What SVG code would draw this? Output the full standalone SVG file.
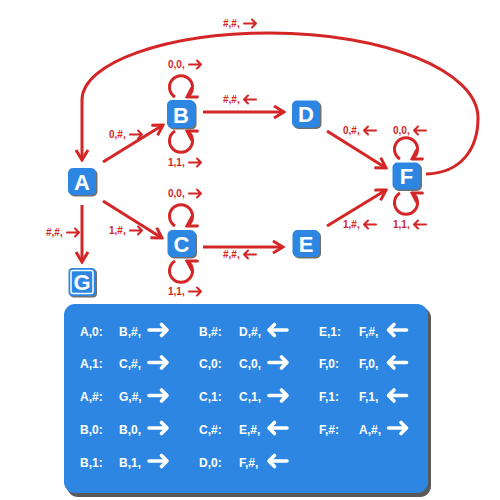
<svg xmlns="http://www.w3.org/2000/svg" width="500" height="500" viewBox="0 0 500 500">
<style>
.edge{fill:none;stroke:#d42626;stroke-width:3}
.nb{fill:#2d87e2}
.ns{fill:#707070}
.nt{fill:#fff;font-family:"Liberation Sans",Arial,sans-serif;font-weight:bold;font-size:22px;text-anchor:middle}
.lbl{fill:#d42626;font-family:"Liberation Sans",Arial,sans-serif;font-weight:bold;font-size:10px}
.tt{fill:#fff;font-family:"Liberation Sans",Arial,sans-serif;font-weight:bold;font-size:12px}
.ra{fill:none;stroke:#d42626;stroke-width:2;stroke-linecap:round;stroke-linejoin:round}
.wa{fill:none;stroke:#fff;stroke-width:3.6;stroke-linecap:round;stroke-linejoin:round}
</style>
<defs>
<marker id="ah" markerUnits="userSpaceOnUse" markerWidth="14" markerHeight="14" viewBox="0 0 14 14" refX="12" refY="7" orient="auto">
<path d="M2,1 L12,7 L2,13" fill="none" stroke="#d42626" stroke-width="3"/>
</marker>
<path id="sr" class="ra" d="M-6,0 H6 M2,-4 L6,0 L2,4"/>
<path id="sl" class="ra" d="M6,0 H-6 M-2,-4 L-6,0 L-2,4"/>
<path id="br" class="wa" d="M-9,0 H9 M3.5,-5.5 L9,0 L3.5,5.5"/>
<path id="bl" class="wa" d="M9,0 H-9 M-3.5,-5.5 L-9,0 L-3.5,5.5"/>
</defs>
<g id="connectors">
<path class="edge" marker-end="url(#ah)" d="M103,162 L163,125"/>
<path class="edge" marker-end="url(#ah)" d="M103,201 L162,238"/>
<path class="edge" marker-end="url(#ah)" d="M82,205 L82,262"/>
<path class="edge" marker-end="url(#ah)" d="M203,112 L284,112"/>
<path class="edge" marker-end="url(#ah)" d="M203,247 L283,247"/>
<path class="edge" marker-end="url(#ah)" d="M327,131 L386,168"/>
<path class="edge" marker-end="url(#ah)" d="M327,226 L386,190"/>
<path class="edge" marker-end="url(#ah)" d="M426,174 C462,173 478,148 478,118 C478,71 385,33 270,33 C166,33 82,63 82,100 L82,160"/>
<path class="edge" marker-end="url(#ah)" d="M175,97 A11.5,11.5 0 1 1 187,97"/>
<path class="edge" marker-end="url(#ah)" d="M175,131 A11.5,11.5 0 1 0 187,131"/>
<path class="edge" marker-end="url(#ah)" d="M175,226 A11.5,11.5 0 1 1 187,226"/>
<path class="edge" marker-end="url(#ah)" d="M175,261 A11.5,11.5 0 1 0 187,261"/>
<path class="edge" marker-end="url(#ah)" d="M400,159 A11.5,11.5 0 1 1 412,159"/>
<path class="edge" marker-end="url(#ah)" d="M400,193 A11.5,11.5 0 1 0 412,193"/>
<text class="lbl" x="223" y="27">#,#,</text><use href="#sr" x="250" y="23.5"/>
<text class="lbl" x="168" y="68">0,0,</text><use href="#sr" x="195" y="64.5"/>
<text class="lbl" x="223" y="103">#,#,</text><use href="#sl" x="250" y="99.5"/>
<text class="lbl" x="109" y="138">0,#,</text><use href="#sr" x="136" y="134.5"/>
<text class="lbl" x="168" y="166">1,1,</text><use href="#sr" x="195" y="162.5"/>
<text class="lbl" x="168" y="197">0,0,</text><use href="#sr" x="195" y="193.5"/>
<text class="lbl" x="46" y="236">#,#,</text><use href="#sr" x="73" y="232.5"/>
<text class="lbl" x="109" y="234">1,#,</text><use href="#sr" x="136" y="230.5"/>
<text class="lbl" x="168" y="295">1,1,</text><use href="#sr" x="195" y="291.5"/>
<text class="lbl" x="223" y="258">#,#,</text><use href="#sl" x="250" y="254.5"/>
<text class="lbl" x="343" y="134">0,#,</text><use href="#sl" x="370" y="130.5"/>
<text class="lbl" x="393" y="134">0,0,</text><use href="#sl" x="420" y="130.5"/>
<text class="lbl" x="343" y="228">1,#,</text><use href="#sl" x="370" y="224.5"/>
<text class="lbl" x="393" y="228">1,1,</text><use href="#sl" x="420" y="224.5"/>
</g>
<g id="A"><rect class="ns" x="69.5" y="169.5" width="28" height="27" rx="5"/><rect class="nb" x="68" y="168" width="28" height="27" rx="5"/><text class="nt" x="82" y="190">A</text></g>
<g id="B"><rect class="ns" x="168.5" y="101.5" width="28" height="28" rx="5"/><rect class="nb" x="167" y="100" width="28" height="28" rx="5"/><text class="nt" x="181" y="122.5">B</text></g>
<g id="C"><rect class="ns" x="169" y="231.5" width="28" height="27" rx="5"/><rect class="nb" x="167.5" y="230" width="28" height="27" rx="5"/><text class="nt" x="181.5" y="251.5">C</text></g>
<g id="D"><rect class="ns" x="293.5" y="102" width="28" height="27" rx="5"/><rect class="nb" x="292" y="100.5" width="28" height="27" rx="5"/><text class="nt" x="306" y="122">D</text></g>
<g id="E"><rect class="ns" x="294" y="231.5" width="27" height="27" rx="5"/><rect class="nb" x="292.5" y="230" width="27" height="27" rx="5"/><text class="nt" x="306" y="251.5">E</text></g>
<g id="F"><rect class="ns" x="394" y="164" width="28" height="27" rx="5"/><rect class="nb" x="392.5" y="162.5" width="28" height="27" rx="5"/><text class="nt" x="406.5" y="184">F</text></g>
<g id="G"><rect class="ns" x="70" y="269.5" width="27" height="28" rx="4"/><rect class="nb" x="68.5" y="268" width="27" height="28" rx="4"/><rect x="71" y="270.5" width="22" height="23" fill="none" stroke="#fff" stroke-width="1.5" rx="2"/><text class="nt" x="82" y="290">G</text></g>
<g id="table">
<rect x="67" y="307" width="364" height="190" rx="11" fill="#5a5a5a"/>
<rect x="64" y="304" width="364" height="189" rx="11" fill="#2d87e2"/>
<text class="tt" x="80" y="335.5">A,0:</text><text class="tt" x="119" y="335.5">B,#,</text><use href="#br" x="158" y="330"/>
<text class="tt" x="80" y="368">A,1:</text><text class="tt" x="119" y="368">C,#,</text><use href="#br" x="158" y="362.5"/>
<text class="tt" x="80" y="401">A,#:</text><text class="tt" x="119" y="401">G,#,</text><use href="#br" x="158" y="395.5"/>
<text class="tt" x="80" y="433.5">B,0:</text><text class="tt" x="119" y="433.5">B,0,</text><use href="#br" x="158" y="428"/>
<text class="tt" x="80" y="466.5">B,1:</text><text class="tt" x="119" y="466.5">B,1,</text><use href="#br" x="158" y="461"/>
<text class="tt" x="199" y="335.5">B,#:</text><text class="tt" x="239" y="335.5">D,#,</text><use href="#bl" x="278" y="330"/>
<text class="tt" x="199" y="368">C,0:</text><text class="tt" x="239" y="368">C,0,</text><use href="#br" x="278" y="362.5"/>
<text class="tt" x="199" y="401">C,1:</text><text class="tt" x="239" y="401">C,1,</text><use href="#br" x="278" y="395.5"/>
<text class="tt" x="199" y="433.5">C,#:</text><text class="tt" x="239" y="433.5">E,#,</text><use href="#bl" x="278" y="428"/>
<text class="tt" x="199" y="466.5">D,0:</text><text class="tt" x="239" y="466.5">F,#,</text><use href="#bl" x="278" y="461"/>
<text class="tt" x="319" y="335.5">E,1:</text><text class="tt" x="359" y="335.5">F,#,</text><use href="#bl" x="397.5" y="330"/>
<text class="tt" x="319" y="368">F,0:</text><text class="tt" x="359" y="368">F,0,</text><use href="#bl" x="397.5" y="362.5"/>
<text class="tt" x="319" y="401">F,1:</text><text class="tt" x="359" y="401">F,1,</text><use href="#bl" x="397.5" y="395.5"/>
<text class="tt" x="319" y="433.5">F,#:</text><text class="tt" x="359" y="433.5">A,#,</text><use href="#br" x="397.5" y="428"/>
</g>
</svg>
